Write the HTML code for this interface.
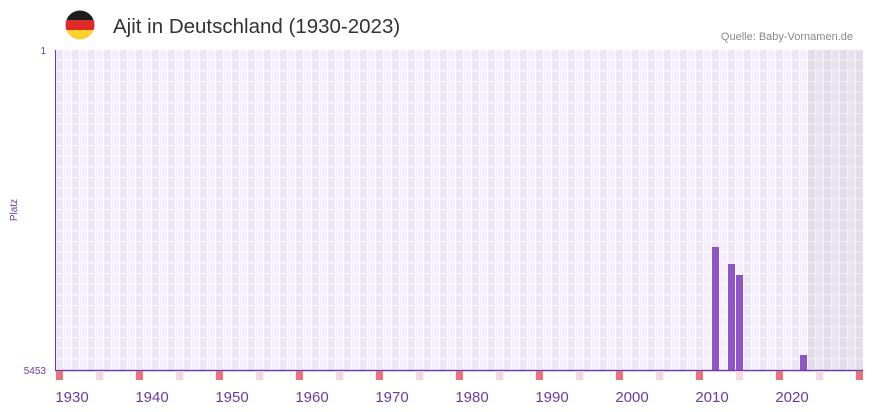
<!DOCTYPE html>
<html><head><meta charset="utf-8"><style>
body{margin:0;background:#fff;width:873px;height:412px;overflow:hidden;font-family:"Liberation Sans",sans-serif}
</style></head><body>
<svg width="873" height="412" xmlns="http://www.w3.org/2000/svg" style="position:absolute;left:0;top:0">
<defs>
<pattern id="g" x="56" y="50" width="16" height="10.6667" patternUnits="userSpaceOnUse">
<rect x="0" y="0" width="8" height="10.6667" fill="#ece6f8"/>
<rect x="8" y="0" width="8" height="10.6667" fill="#f3effb"/>
<rect x="7" y="0" width="1" height="10.6667" fill="#fff"/>
<rect x="15" y="0" width="1" height="10.6667" fill="#fff"/>
<rect x="0" y="9.6667" width="16" height="1" fill="#fff"/>
</pattern>
<clipPath id="fc"><circle cx="80" cy="25" r="14.5"/></clipPath>
</defs>
<g clip-path="url(#fc)">
<rect x="60" y="10" width="40" height="10" fill="#1e1e1e"/>
<rect x="60" y="20" width="40" height="10" fill="#dd2a2a"/>
<rect x="60" y="30" width="40" height="10" fill="#f9d12e"/>
</g>
<text x="113" y="33" font-size="20.5" fill="#333">Ajit in Deutschland (1930-2023)</text>
<text x="853" y="40" font-size="11" fill="#888" text-anchor="end">Quelle: Baby-Vornamen.de</text>
<rect x="56" y="50" width="807" height="320" fill="url(#g)"/>
<rect x="808" y="50" width="55" height="320" fill="#8a8a8a" opacity="0.10"/>
<line x1="55.5" y1="50" x2="55.5" y2="371" stroke="#6a3aa6" stroke-width="1"/>
<line x1="55" y1="370.5" x2="863" y2="370.5" stroke="#6a3aa6" stroke-width="1.5"/>
<text x="46" y="54" font-size="10" fill="#6a3aa6" text-anchor="end">1</text>
<text x="46" y="374" font-size="10" fill="#6a3aa6" text-anchor="end">5453</text>
<text x="17" y="210" font-size="10" fill="#6a3aa6" text-anchor="middle" transform="rotate(-90 17 210)">Platz</text>
<g fill="#8e54c8">
<rect x="712" y="247" width="7" height="123"/>
<rect x="728" y="264" width="7" height="106"/>
<rect x="736" y="275" width="7" height="95"/>
<rect x="800" y="355" width="7" height="15"/>
</g>
<g fill="#e8737e">
<rect x="56" y="371" width="7" height="9"/><rect x="136" y="371" width="7" height="9"/><rect x="216" y="371" width="7" height="9"/><rect x="296" y="371" width="7" height="9"/><rect x="376" y="371" width="7" height="9"/><rect x="456" y="371" width="7" height="9"/><rect x="536" y="371" width="7" height="9"/><rect x="616" y="371" width="7" height="9"/><rect x="696" y="371" width="7" height="9"/><rect x="776" y="371" width="7" height="9"/><rect x="856" y="371" width="7" height="9"/>
</g>
<g fill="#f5d8e2">
<rect x="96" y="371" width="7" height="9"/><rect x="176" y="371" width="7" height="9"/><rect x="256" y="371" width="7" height="9"/><rect x="336" y="371" width="7" height="9"/><rect x="416" y="371" width="7" height="9"/><rect x="496" y="371" width="7" height="9"/><rect x="576" y="371" width="7" height="9"/><rect x="656" y="371" width="7" height="9"/><rect x="736" y="371" width="7" height="9"/><rect x="816" y="371" width="7" height="9"/>
</g>
<g font-size="15" fill="#6a3aa6" text-anchor="middle">
<text x="72" y="402">1930</text><text x="152" y="402">1940</text><text x="232" y="402">1950</text><text x="312" y="402">1960</text><text x="392" y="402">1970</text><text x="472" y="402">1980</text><text x="552" y="402">1990</text><text x="632" y="402">2000</text><text x="712" y="402">2010</text><text x="792" y="402">2020</text>
</g>
</svg>
</body></html>
